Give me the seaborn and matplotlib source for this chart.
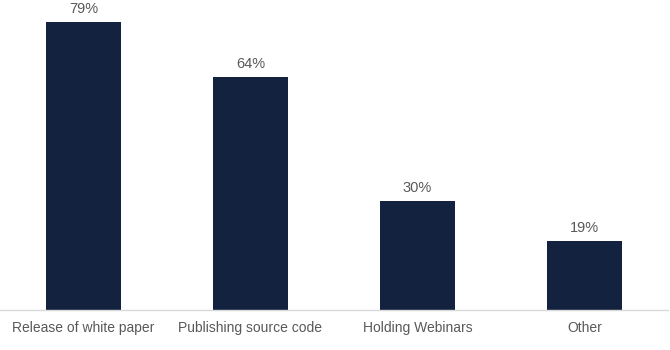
import matplotlib
matplotlib.use("Agg")
import matplotlib.pyplot as plt
import seaborn as sns
import pandas as pd

categories = ["Release of white paper", "Publishing source code", "Holding Webinars", "Other"]
values = [79, 64, 30, 19]
labels = ["79%", "64%", "30%", "19%"]

sns.set_style("white")
plt.rcParams['font.family'] = ['Liberation Sans', 'DejaVu Sans']

df = pd.DataFrame({"cat": categories, "val": values})

fig = plt.figure(figsize=(6.7, 3.5), dpi=100)
ax = fig.add_axes([0, 40/350, 668/670, 310/350])
sns.barplot(data=df, x="cat", y="val", color="#13233f", saturation=1, width=0.45,
            linewidth=0, ax=ax)

ax.set_xlim(-0.5, 3.5)
ax.set_ylim(0, 85)
for i, (v, l) in enumerate(zip(values, labels)):
    ax.annotate(l, (i, v), xytext=(0, 4), textcoords="offset points",
                ha="center", va="bottom", fontsize=10.5, color="#595959")

for s in ["top", "right", "left"]:
    ax.spines[s].set_visible(False)
ax.spines["bottom"].set_color("#d9d9d9")
ax.spines["bottom"].set_linewidth(1)
ax.set_yticks([])
ax.set_xlabel("")
ax.set_ylabel("")
ax.tick_params(axis="x", length=0, pad=8, labelsize=10, labelcolor="#595959")

fig.savefig("out.png", dpi=100)
